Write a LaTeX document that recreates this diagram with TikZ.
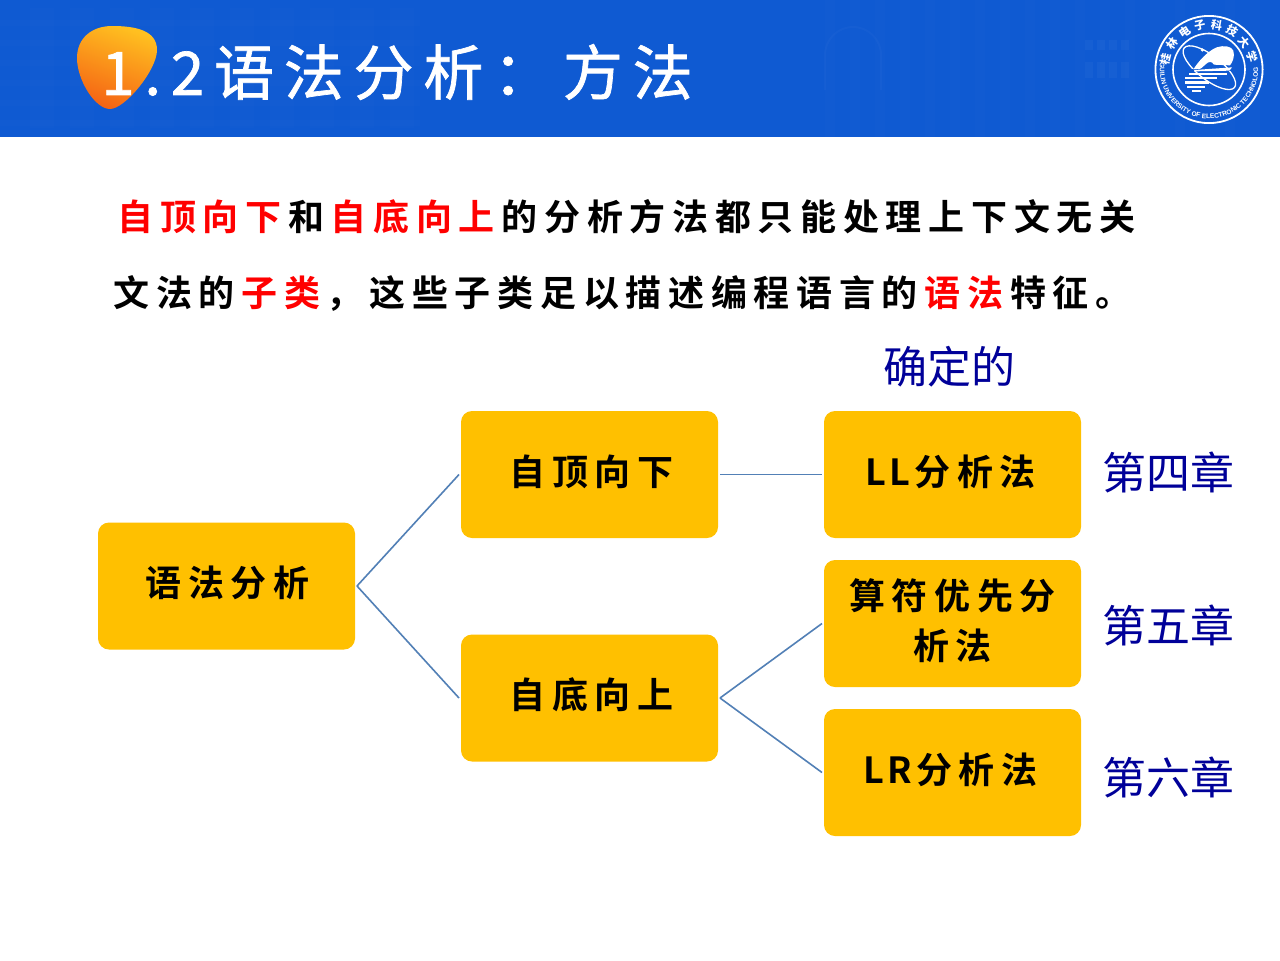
\documentclass[tikz,border=0pt]{standalone}
\usepackage{fontspec}
\usetikzlibrary{decorations.text}
\newfontfamily\titlef[LetterSpace=16.3,FakeBold=1.2]{Noto Sans CJK SC}
\newfontfamily\bodyf[LetterSpace=18.6,BoldFont={Noto Sans CJK SC Bold}]{Noto Sans CJK SC}
\newfontfamily\labelf{Noto Sans CJK SC}
\newfontfamily\cjkplain{Noto Sans CJK SC}
\newfontfamily\logolat{Liberation Sans}
\definecolor{bannerblue}{RGB}{15,90,210}
\definecolor{boxgold}{RGB}{255,192,0}
\definecolor{linkblue}{RGB}{82,128,182}
\definecolor{navyt}{RGB}{0,0,153}
\definecolor{blobA}{RGB}{255,192,32}
\definecolor{blobB}{RGB}{245,100,20}
\newcommand{\redrun}[1]{\textcolor{red}{#1}\kern3.35pt}
\tikzset{
  x=0.5pt,y=-0.5pt,
  goldbox/.style={fill=boxgold,rounded corners=5.5pt,minimum width=128.5pt,minimum height=63.5pt,outer sep=1pt,inner sep=0pt,align=center,text depth=4.6pt,font=\bodyf\bfseries\fontsize{18}{25}\selectfont},
  link/.style={draw=linkblue,line width=0.8pt},
  sidelabel/.style={text=navyt,font=\labelf\fontsize{22}{26}\selectfont,inner sep=0pt},
  bodyline/.style={anchor=west,inner sep=0pt,font=\bodyf\bfseries\fontsize{18}{22}\selectfont},
  logoline/.style={draw=white,line width=0.55pt},
  faint/.style={white,opacity=0.03},
}
\begin{document}
\begin{tikzpicture}
\useasboundingbox (0,0) rectangle (1280,960);
\fill[white] (0,0) rectangle (1280,960);
\fill[bannerblue] (0,0) rectangle (1280,137);
% faint banner texture
\foreach \xx in {825,850,...,1270}{\fill[faint,opacity=0.012] (\xx,0) rectangle ++(10,137);}
\draw[white,opacity=0.025,line width=1pt] (825,90) -- (825,55) arc[start angle=180,end angle=360,radius=28] -- (881,90);
\foreach \xx in {1085,1097,1109,1121}{
  \fill[faint] (\xx,40) rectangle ++(8,10);
  \fill[faint] (\xx,62) rectangle ++(8,16);
}
\foreach \xx in {30,70,...,410}{\fill[faint,opacity=0.012] (\xx,8) rectangle ++(24,120);}
\foreach \yy in {20,40,...,120}{\fill[faint,opacity=0.012] (0,\yy) rectangle (420,\yy+6);}
% teardrop
\shade[left color=blobA,right color=blobB,shading angle=-20]
 (112,26) .. controls (135,26) and (157,30) .. (157,50) .. controls (157,70) and (125,109) .. (110,109) .. controls (95,109) and (77,80) .. (77,58) .. controls (77,38) and (92,26) .. (112,26) -- cycle;
\node[anchor=west,inner sep=0pt,text=white,font=\titlef\fontsize{30}{36}\selectfont] (title) at (101,72) {1.2语法分析：方法};
% logo
\begin{scope}[shift={(1209,69.5)}]
 \draw[logoline,line width=0.9pt] (0,0) circle[radius=26.8pt];
 \draw[logoline,line width=0.8pt] (0,0) circle[radius=18pt];
 \foreach \ch [count=\i from 0] in {桂,林,电,子,科,技,大,学}{
   \pgfmathsetmacro{\ang}{166-\i*21.4}
   \node[text=white,inner sep=0pt,rotate=\ang-90,font=\cjkplain\bfseries\fontsize{5.6}{6}\selectfont] (logo\i) at (\ang:22.5pt) {\ch};
 }
 \path[decorate,decoration={text along path,text align=center,text={|\logolat\bfseries\fontsize{3.3}{4}\selectfont\color{white}|GUILIN UNIVERSITY OF ELECTRONIC TECHNOLOGY}}]
   (180:24.6pt) arc[start angle=180,end angle=360,radius=24.6pt];
\end{scope}
\begin{scope}[shift={(1170,30)},x=0.1667pt,y=-0.1667pt]
 \draw[white,line width=0.65pt,rotate around={-38:(118,113)}] (118,113) ellipse[x radius=96,y radius=36];
 \fill[bannerblue] (60,116) rectangle (192,124);
 \fill[white] (70,118) .. controls (85,95) and (110,65) .. (140,52) .. controls (160,45) and (185,48) .. (190,62) .. controls (195,80) and (188,95) .. (180,106) -- (132,104) .. controls (125,92) and (115,95) .. (108,102) -- (92,116) -- cycle;
 \fill[white] (73,120) -- (186,112) -- (178,122) -- (72,124) -- cycle;
 \foreach \yy/\xa/\xb in {128/58/172,141/46/140,154/46/116,167/52/104,179/66/92}{
   \fill[white] (\xa,\yy) rectangle (\xb,\yy+7);
 }
 \fill[white] (97,60) circle[radius=5];
\end{scope}
% body
\node[bodyline] (lineA) at (117,217) {\redrun{自顶向下}和\kern3.35pt\redrun{自底向上}的分析方法都只能处理上下文无关};
\node[bodyline] (lineB) at (113,293) {文法的\kern3.35pt\redrun{子类}，这些子类足以描述编程语言的\kern3.35pt\redrun{语法}特征。};
% boxes
\node[goldbox] (root) at (226.5,586) {\kern1pt语法分析};
\node[goldbox] (top) at (589.5,474.5) {\kern2pt自顶向下};
\node[goldbox] (bot) at (589.5,698) {\kern2pt自底向上};
\node[goldbox] (ll) at (952.5,474.5) {L\kern1.9pt L\kern1.9pt 分析法\kern2pt};
\node[goldbox] (op) at (952.5,623.5) {算符优先分\\析法};
\node[goldbox] (lr) at (952.5,772.5) {L\kern1.8pt R\kern1.8pt 分析法\kern2pt};
\draw[link] (root.east) -- (top.west);
\draw[link] (root.east) -- (bot.west);
\draw[link] (top.east) -- (ll.west);
\draw[link] (bot.east) -- (op.west);
\draw[link] (bot.east) -- (lr.west);
\node[sidelabel] (det) at (949,367) {确定的};
\node[sidelabel] (ch4) at (1168.5,472) {第四章};
\node[sidelabel] (ch5) at (1168.5,625) {第五章};
\node[sidelabel] (ch6) at (1168.5,777) {第六章};
\end{tikzpicture}
\end{document}
